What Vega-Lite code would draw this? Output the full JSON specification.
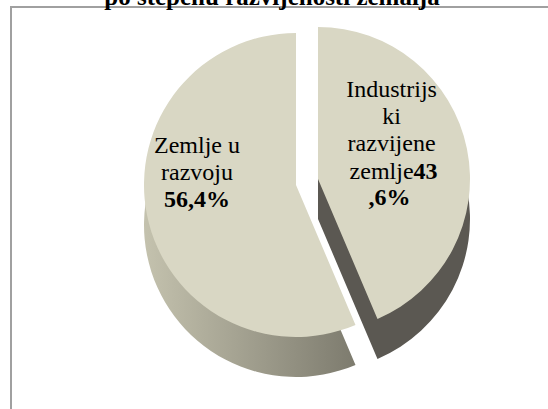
{
  "$schema": "https://vega.github.io/schema/vega-lite/v6.json",
  "width": 570,
  "height": 450,
  "autosize": {"type": "none"},
  "padding": {"left": 11, "top": 7, "right": 0, "bottom": 0},
  "background": "white",
  "view": {"stroke": "#a0a0a0", "strokeWidth": 2, "fill": "white"},
  "config": {"font": "Liberation Serif"},
  "title": {"text": "po stepenu razvijenosti zemalja", "font": "Liberation Serif", "fontSize": 25, "fontWeight": "bold", "color": "black", "anchor": "middle", "offset": -3, "dx": -24},
  "data": {"values": [
    {"label": "Industrijski razvijene zemlje", "share": 0.436, "l1": "Industrijs\nki\nrazvijene", "l2": "zemlje", "p1": "43", "p2": ",6%"},
    {"label": "Zemlje u razvoju", "share": 0.564, "l1": "Zemlje u\nrazvoju", "l2": "", "p1": "", "p2": "56,4%"}
  ]},
  "transform": [
    {"stack": "share", "groupby": [], "as": ["v0", "v1"], "sort": [{"field": "label", "order": "ascending"}]},
    {"calculate": "(datum.v0 + datum.v1) / 2", "as": "mid"}
  ],
  "layer": [
    {
      "transform": [{"filter": "datum.label === 'Zemlje u razvoju'"}],
      "mark": {"type": "arc", "outerRadius": 152, "yOffset": -7,
        "color": {"gradient": "linear", "x1": 0, "y1": 0, "x2": 1, "y2": 0, "stops": [{"offset": 0, "color": "#c4c2ae"}, {"offset": 1, "color": "#7d7b6e"}]}},
      "encoding": {"theta": {"field": "v0", "type": "quantitative", "scale": {"domain": [0, 1]}}, "theta2": {"field": "v1"}}
    },
    {
      "transform": [{"filter": "datum.label !== 'Zemlje u razvoju'"}],
      "mark": {"type": "arc", "outerRadius": 152, "xOffset": 22, "yOffset": -13, "color": "#5b5852"},
      "encoding": {"theta": {"field": "v0", "type": "quantitative", "scale": {"domain": [0, 1]}}, "theta2": {"field": "v1"}}
    },
    {
      "transform": [{"filter": "datum.label === 'Zemlje u razvoju'"}],
      "mark": {"type": "arc", "outerRadius": 152, "yOffset": -47, "color": "#d9d7c4"},
      "encoding": {"theta": {"field": "v0", "type": "quantitative", "scale": {"domain": [0, 1]}}, "theta2": {"field": "v1"}}
    },
    {
      "transform": [{"filter": "datum.label !== 'Zemlje u razvoju'"}],
      "mark": {"type": "arc", "outerRadius": 152, "xOffset": 22, "yOffset": -53, "color": "#d9d7c4"},
      "encoding": {"theta": {"field": "v0", "type": "quantitative", "scale": {"domain": [0, 1]}}, "theta2": {"field": "v1"}}
    },
    {
      "transform": [{"filter": "datum.label === 'Zemlje u razvoju'"}],
      "mark": {"type": "text", "radius": 100, "dx": -1, "dy": -99, "align": "center", "baseline": "alphabetic", "fontSize": 24, "lineHeight": 27, "lineBreak": "\n", "font": "Liberation Serif", "color": "black"},
      "encoding": {"theta": {"field": "mid", "type": "quantitative", "scale": {"domain": [0, 1]}}, "text": {"field": "l1"}}
    },
    {
      "transform": [{"filter": "datum.label === 'Zemlje u razvoju'"}],
      "mark": {"type": "text", "radius": 100, "dx": -1, "dy": -45, "align": "center", "baseline": "alphabetic", "fontSize": 24, "fontWeight": "bold", "font": "Liberation Serif", "color": "black"},
      "encoding": {"theta": {"field": "mid", "type": "quantitative", "scale": {"domain": [0, 1]}}, "text": {"field": "p2"}}
    },
    {
      "transform": [{"filter": "datum.label !== 'Zemlje u razvoju'"}],
      "mark": {"type": "text", "radius": 70, "dx": 27, "dy": -121, "align": "center", "baseline": "alphabetic", "fontSize": 24, "lineHeight": 27, "lineBreak": "\n", "font": "Liberation Serif", "color": "black"},
      "encoding": {"theta": {"field": "mid", "type": "quantitative", "scale": {"domain": [0, 1]}}, "text": {"field": "l1"}}
    },
    {
      "transform": [{"filter": "datum.label !== 'Zemlje u razvoju'"}],
      "mark": {"type": "text", "radius": 70, "dx": 49, "dy": -39, "align": "right", "baseline": "alphabetic", "fontSize": 24, "font": "Liberation Serif", "color": "black"},
      "encoding": {"theta": {"field": "mid", "type": "quantitative", "scale": {"domain": [0, 1]}}, "text": {"field": "l2"}}
    },
    {
      "transform": [{"filter": "datum.label !== 'Zemlje u razvoju'"}],
      "mark": {"type": "text", "radius": 70, "dx": 49, "dy": -39, "align": "left", "baseline": "alphabetic", "fontSize": 24, "fontWeight": "bold", "font": "Liberation Serif", "color": "black"},
      "encoding": {"theta": {"field": "mid", "type": "quantitative", "scale": {"domain": [0, 1]}}, "text": {"field": "p1"}}
    },
    {
      "transform": [{"filter": "datum.label !== 'Zemlje u razvoju'"}],
      "mark": {"type": "text", "radius": 70, "dx": 25, "dy": -13, "align": "center", "baseline": "alphabetic", "fontSize": 24, "fontWeight": "bold", "font": "Liberation Serif", "color": "black"},
      "encoding": {"theta": {"field": "mid", "type": "quantitative", "scale": {"domain": [0, 1]}}, "text": {"field": "p2"}}
    }
  ]
}
